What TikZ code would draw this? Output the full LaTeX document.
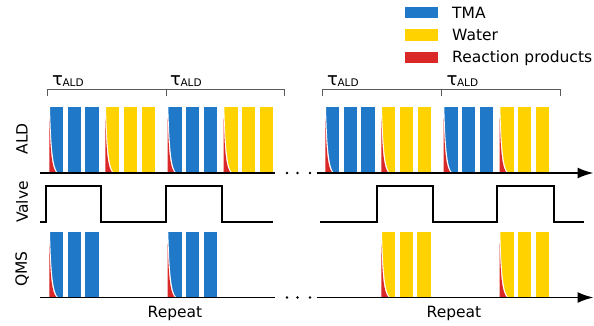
\documentclass[tikz,border=0pt]{standalone}
\usepackage{fontspec}
\setmainfont{DejaVu Sans}
\usetikzlibrary{arrows.meta}
\definecolor{tma}{RGB}{32,120,200}
\definecolor{wat}{RGB}{255,210,0}
\definecolor{rp}{RGB}{218,40,40}
\definecolor{brk}{RGB}{90,90,90}
\newcommand\pbar[4]{\fill[#4] (#1,#2) rectangle (#1+13.3,#3);}
\newcommand\rbar[4]{%
  \pbar{#1}{#2}{#3}{#4}
  \fill[white] (#1-0.6,#2) -- (#1,#2) .. controls (#1+1,#2+40) and (#1+3,#3-4) .. (#1+8,#3) -- (#1-0.6,#3) -- cycle;
  \fill[rp] (#1-0.6,#2+11) .. controls (#1+0.4,#2+45) and (#1+1.8,#3-5) .. (#1+6.5,#3) -- (#1-0.6,#3) -- cycle;
}
\newcommand\aldgroup[1]{%
  \rbar{#1}{107}{173}{tma}
  \pbar{#1+17.7}{107}{173}{tma}
  \pbar{#1+35.3}{107}{173}{tma}
  \rbar{#1+56}{107}{173}{wat}
  \pbar{#1+73.8}{107}{173}{wat}
  \pbar{#1+91.5}{107}{173}{wat}
}
\newcommand\qmsthree[2]{%
  \rbar{#1}{232.3}{297.3}{#2}
  \pbar{#1+17.7}{232.3}{297.3}{#2}
  \pbar{#1+35.3}{232.3}{297.3}{#2}
}
\tikzset{
  lbl/.style={font=\fontsize{15.5}{15.5}\selectfont, inner sep=0pt},
  axisline/.style={line width=1.8pt, black},
  arrowaxis/.style={axisline, -{Latex[length=16pt,width=11pt]}},
  valveline/.style={line width=1.8pt, black, line join=miter},
  bracket/.style={brk, line width=0.9pt},
  dot/.style={circle, fill=black, inner sep=0pt, minimum size=2.8pt},
  taulbl/.style={inner sep=0pt, anchor=base west}
}
\newcommand\taulabel{{\fontsize{18}{18}\selectfont τ}\kern-0.5pt{\fontsize{10.5}{10.5}\selectfont\raisebox{-1.5pt}{ALD}}}
\begin{document}
\begin{tikzpicture}[x=1pt,y=-1pt]
\useasboundingbox (0,0) rectangle (594,325);
% legend
\fill[tma] (405,7.3) rectangle (438.3,18.3);
\fill[wat] (405,29.3) rectangle (438.3,40.7);
\fill[rp] (405,51.7) rectangle (438.3,63.3);
\node[lbl, anchor=base west] (legtma) at (452,18.3) {TMA};
\node[lbl, anchor=base west] (legwat) at (452,40.5) {Water};
\node[lbl, anchor=base west] (legrp) at (452,62.8) {Reaction products};
% tau labels
\node[taulbl] (tau1) at (52,85) {\taulabel};
\node[taulbl] (tau2) at (170,85) {\taulabel};
\node[taulbl] (tau3) at (327,85) {\taulabel};
\node[taulbl] (tau4) at (446.5,85) {\taulabel};
% brackets
\coordinate (b1a) at (47,96); \coordinate (b1b) at (47,89);
\coordinate (b1c) at (284,89); \coordinate (b1d) at (284,96);
\coordinate (b1m) at (166,89); \coordinate (b1n) at (166,96);
\draw[bracket] (b1a) -- (b1b) -- (b1c) -- (b1d);
\draw[bracket] (b1m) -- (b1n);
\coordinate (b2a) at (322.3,96); \coordinate (b2b) at (322.3,89);
\coordinate (b2c) at (560,89); \coordinate (b2d) at (560,96);
\coordinate (b2m) at (441.7,89); \coordinate (b2n) at (441.7,96);
\draw[bracket] (b2a) -- (b2b) -- (b2c) -- (b2d);
\draw[bracket] (b2m) -- (b2n);
% ALD bars
\aldgroup{50}
\aldgroup{168.3}
\aldgroup{326}
\aldgroup{444.3}
% QMS bars
\qmsthree{50}{tma}
\qmsthree{168.3}{tma}
\qmsthree{382}{wat}
\qmsthree{500.3}{wat}
% axes
\coordinate (ald1s) at (40,173); \coordinate (ald1e) at (275,173);
\coordinate (ald2s) at (316.7,173); \coordinate (ald2e) at (593.5,173);
\draw[axisline] (ald1s) -- (ald1e);
\draw[arrowaxis] (ald2s) -- (ald2e);
\coordinate (qms1s) at (40,297.5); \coordinate (qms1e) at (275,297.5);
\coordinate (qms2s) at (316.7,297.5); \coordinate (qms2e) at (593.5,297.5);
\draw[axisline] (qms1s) -- (qms1e);
\draw[arrowaxis] (qms2s) -- (qms2e);
% dots
\node[dot] (d1) at (287,173) {}; \node[dot] (d2) at (297.5,173) {}; \node[dot] (d3) at (310,173) {};
\node[dot] (d4) at (287,297.5) {}; \node[dot] (d5) at (297.5,297.5) {}; \node[dot] (d6) at (310,297.5) {};
% valve
\draw[valveline] (40,222.3) -- (45.7,222.3) -- (45.7,186) -- (101,186) -- (101,222.3) -- (165.7,222.3) -- (165.7,186) -- (221.7,186) -- (221.7,222.3) -- (273.3,222.3);
\draw[valveline] (320,222) -- (377.3,222) -- (377.3,186) -- (433.3,186) -- (433.3,222) -- (497.3,222) -- (497.3,186) -- (554,186) -- (554,222) -- (584,222);
% side labels
\node[lbl, rotate=90] (lald) at (22,139) {ALD};
\node[lbl, rotate=90] (lvalve) at (22,202) {Valve};
\node[lbl, rotate=90] (lqms) at (22,269) {QMS};
% repeat
\node[lbl, anchor=base] (rep1) at (175,317.5) {Repeat};
\node[lbl, anchor=base] (rep2) at (454,317.5) {Repeat};
\end{tikzpicture}
\end{document}
